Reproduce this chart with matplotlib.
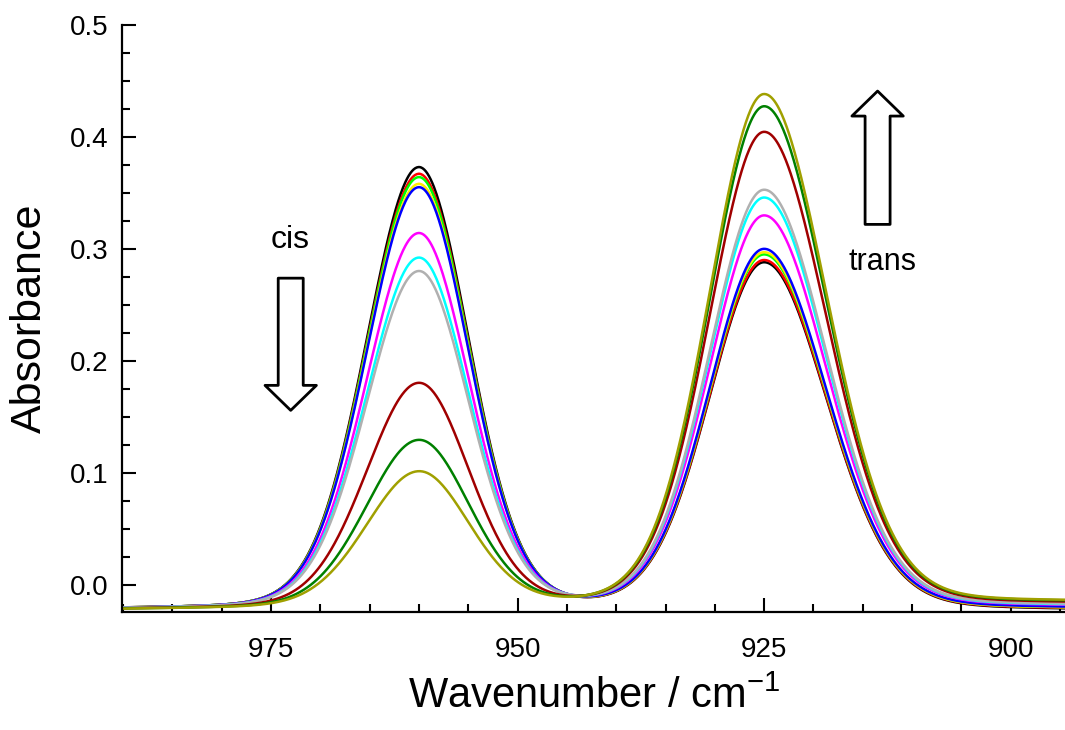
import numpy as np
import matplotlib.pyplot as plt
from matplotlib.ticker import MultipleLocator

plt.rcParams['font.family'] = ['Liberation Sans', 'DejaVu Sans']
plt.rcParams['mathtext.default'] = 'regular'

colors = ['#000000', '#ff0000', '#00ff00', '#ffee00', '#0000ff', '#ff00ff',
          '#00ffff', '#b0b0b0', '#a00000', '#008000', '#a0a000']
cis_height = [0.372, 0.366, 0.363, 0.357, 0.354, 0.313, 0.291, 0.279, 0.179, 0.128, 0.100]
trans_height = [0.287, 0.289, 0.294, 0.296, 0.299, 0.329, 0.345, 0.352, 0.404, 0.427, 0.438]
# baseline at the low-wavenumber end of the window
end_level = [-0.023, -0.0225, -0.022, -0.022, -0.0215, -0.020, -0.0195, -0.019, -0.0175, -0.0165, -0.016]
start_level = -0.022

# band parameters (cm-1): width on the high / low wavenumber side
cis_center = 960.0
trans_center = 925.0
cis_fwhm = (12.6, 12.0)
trans_fwhm = (13.2, 15.0)
lorentz_frac = 0.11


def band(x, x0, fwhm, h):
    w = np.where(x > x0, fwhm[0], fwhm[1])
    u = 2 * (x - x0) / w
    g = np.exp(-np.log(2) * u ** 2)
    l = 1.0 / (1.0 + u ** 2)
    return h * ((1 - lorentz_frac) * g + lorentz_frac * l)


wn = np.linspace(992, 893, 1200)
x_hi, x_lo = 990.0, 895.0

fig = plt.figure(figsize=(10.65, 7.3), dpi=100)
ax = fig.add_axes([0.1146, 0.1616, 0.8854, 0.8042])

for c, hc, ht, e in zip(colors, cis_height, trans_height, end_level):
    base = start_level + (e - start_level) * (x_hi - wn) / (x_hi - x_lo)
    b_cis = start_level + (e - start_level) * (x_hi - cis_center) / (x_hi - x_lo)
    b_tr = start_level + (e - start_level) * (x_hi - trans_center) / (x_hi - x_lo)
    a = base + band(wn, cis_center, cis_fwhm, hc - b_cis) \
        + band(wn, trans_center, trans_fwhm, ht - b_tr)
    ax.plot(wn, a, color=c, lw=1.8)

ax.set_xlim(990.1, 894.5)
ax.set_ylim(-0.024, 0.5)

ax.xaxis.set_major_locator(MultipleLocator(25))
ax.xaxis.set_minor_locator(MultipleLocator(5))
ax.yaxis.set_major_locator(MultipleLocator(0.1))
ax.yaxis.set_minor_locator(MultipleLocator(0.025))
ax.yaxis.set_major_formatter(plt.FormatStrFormatter('%.1f'))

ax.spines['top'].set_visible(False)
ax.spines['right'].set_visible(False)
for s in ['left', 'bottom']:
    ax.spines[s].set_linewidth(1.6)
ax.tick_params(which='both', direction='in', width=1.5, labelsize=20, pad=10)
ax.tick_params(which='major', length=10)
ax.tick_params(which='minor', length=6)
ax.tick_params(axis='x', pad=18)

ax.set_xlabel('Wavenumber / cm$^{-1}$', fontsize=30, labelpad=10)
ax.set_ylabel('Absorbance', fontsize=31, labelpad=14)

# arrows + labels
arrow = dict(arrowstyle='simple,head_length=0.9,head_width=1.85,tail_width=0.9',
             fc='white', ec='black', lw=2, shrinkA=0, shrinkB=0, mutation_scale=20)
ax.annotate('', xy=(973.0, 0.156), xytext=(973.0, 0.274), arrowprops=arrow)
ax.annotate('', xy=(913.5, 0.441), xytext=(913.5, 0.322), arrowprops=arrow)
ax.text(973.1, 0.308, 'cis', fontsize=23, ha='center', va='center')
ax.text(913.0, 0.288, 'trans', fontsize=22, ha='center', va='center')

fig.savefig('out.png', dpi=100)
